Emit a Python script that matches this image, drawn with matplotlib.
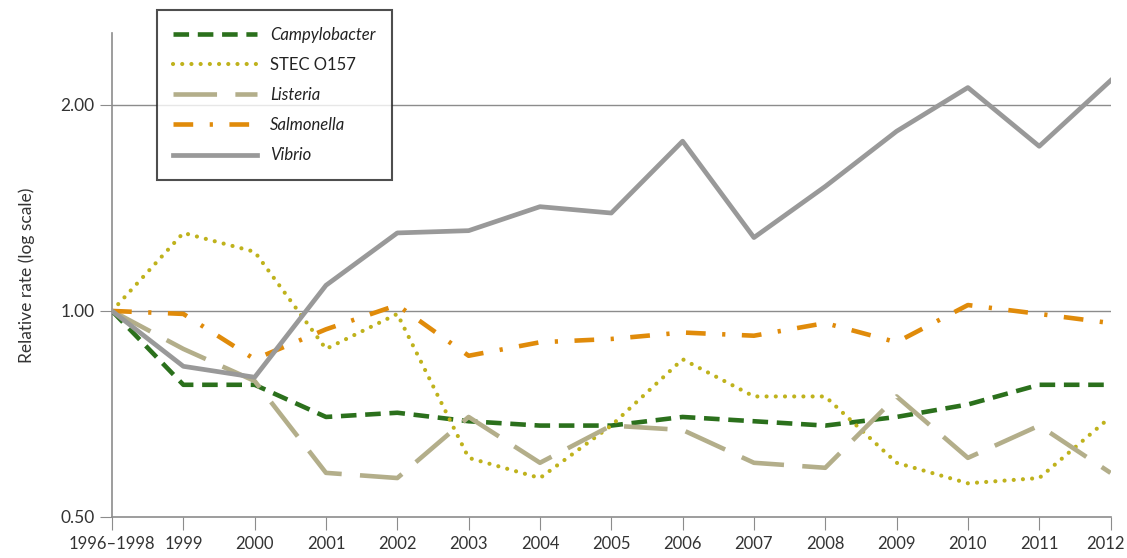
import numpy as np
import matplotlib
matplotlib.use('Agg')
import matplotlib.pyplot as plt
import matplotlib.transforms as mtransforms
from matplotlib.ticker import FixedLocator, FixedFormatter, NullLocator

plt.rcParams['font.family'] = ['Lato', 'DejaVu Sans']

# categories on the x axis
years = ['1996\u20131998', '1999', '2000', '2001', '2002', '2003', '2004', '2005',
         '2006', '2007', '2008', '2009', '2010', '2011', '2012']

# relative rates
campylobacter = [1.00, 0.78, 0.78, 0.70, 0.71, 0.69, 0.68, 0.68, 0.70, 0.69, 0.68, 0.70, 0.73, 0.78, 0.78]
stec_o157 = [1.00, 1.30, 1.22, 0.88, 0.99, 0.61, 0.57, 0.68, 0.85, 0.75, 0.75, 0.60, 0.56, 0.57, 0.70]
listeria = [1.00, 0.88, 0.79, 0.58, 0.57, 0.70, 0.60, 0.68, 0.67, 0.60, 0.59, 0.75, 0.61, 0.68, 0.58]
salmonella = [1.00, 0.99, 0.85, 0.94, 1.02, 0.86, 0.90, 0.91, 0.93, 0.92, 0.96, 0.90, 1.02, 0.99, 0.96]
vibrio = [1.00, 0.83, 0.80, 1.09, 1.30, 1.31, 1.42, 1.39, 1.77, 1.28, 1.52, 1.83, 2.12, 1.74, 2.17]

ytick_vals = [0.5, 1.0, 2.0]
ytick_labels = ['0.50', '1.00', '2.00']

x = np.arange(len(years))

fig = plt.figure(figsize=(11.27, 5.58), dpi=100)
ax = fig.add_axes([0.0994, 0.0735, 0.886, 0.868])

ax.set_yscale('log')

# gridlines at 1 and 2
for v in [1.0, 2.0]:
    ax.axhline(v, color='#8c8c8c', lw=1.0, zorder=1)

ax.plot(x, campylobacter, color='#2b701c', lw=3.3, linestyle=(0, (3.4, 1.9)),
        label='Campylobacter', zorder=3)
ax.plot(x, stec_o157, color='#bfb21c', lw=3.0, linestyle=(0, (0.01, 2.2)),
        dash_capstyle='round', label='STEC O157', zorder=3)
ax.plot(x, listeria, color='#b3ae8a', lw=3.3, linestyle=(0, (9.5, 4.0)),
        label='Listeria', zorder=3)
ax.plot(x, salmonella, color='#e08b0a', lw=3.3, linestyle=(0, (4.3, 3.6, 0.7, 3.6)),
        label='Salmonella', zorder=3)
ax.plot(x, vibrio, color='#999999', lw=3.4, linestyle='-', label='Vibrio', zorder=3)

ax.set_xlim(0, len(years) - 1)
ax.set_ylim(0.5, 2.55)
ax.set_xticks(x)
ax.set_xticklabels(years, fontsize=12, color='#333333')
ax.yaxis.set_major_locator(FixedLocator(ytick_vals))
ax.yaxis.set_major_formatter(FixedFormatter(ytick_labels))
ax.yaxis.set_minor_locator(NullLocator())
ax.tick_params(axis='y', labelsize=12.5, labelcolor='#333333', length=9, color='#8c8c8c')
ax.tick_params(axis='x', length=9, color='#8c8c8c', pad=5)

# nudge the last year label so it stays inside the figure
last = ax.get_xticklabels()[-1]
last.set_transform(last.get_transform() + mtransforms.ScaledTranslation(-5 / 100, 0, fig.dpi_scale_trans))

for s in ['top', 'right']:
    ax.spines[s].set_visible(False)
for s in ['left', 'bottom']:
    ax.spines[s].set_color('#8c8c8c')
    ax.spines[s].set_linewidth(1.2)

ax.set_ylabel('Relative rate (log scale)', fontsize=12.5, color='#333333', labelpad=18)

leg = fig.legend(loc='upper left', bbox_to_anchor=(0.139, 0.982), fontsize=12,
                 frameon=True, fancybox=False, handlelength=5.0, handletextpad=0.8,
                 labelspacing=0.85, borderpad=1.0, borderaxespad=0)
leg.get_frame().set_edgecolor('#222222')
leg.get_frame().set_linewidth(1.5)
for i, t in enumerate(leg.get_texts()):
    t.set_color('#222222')
    if i != 1:
        t.set_fontstyle('italic')

fig.savefig('out.png', dpi=100)
